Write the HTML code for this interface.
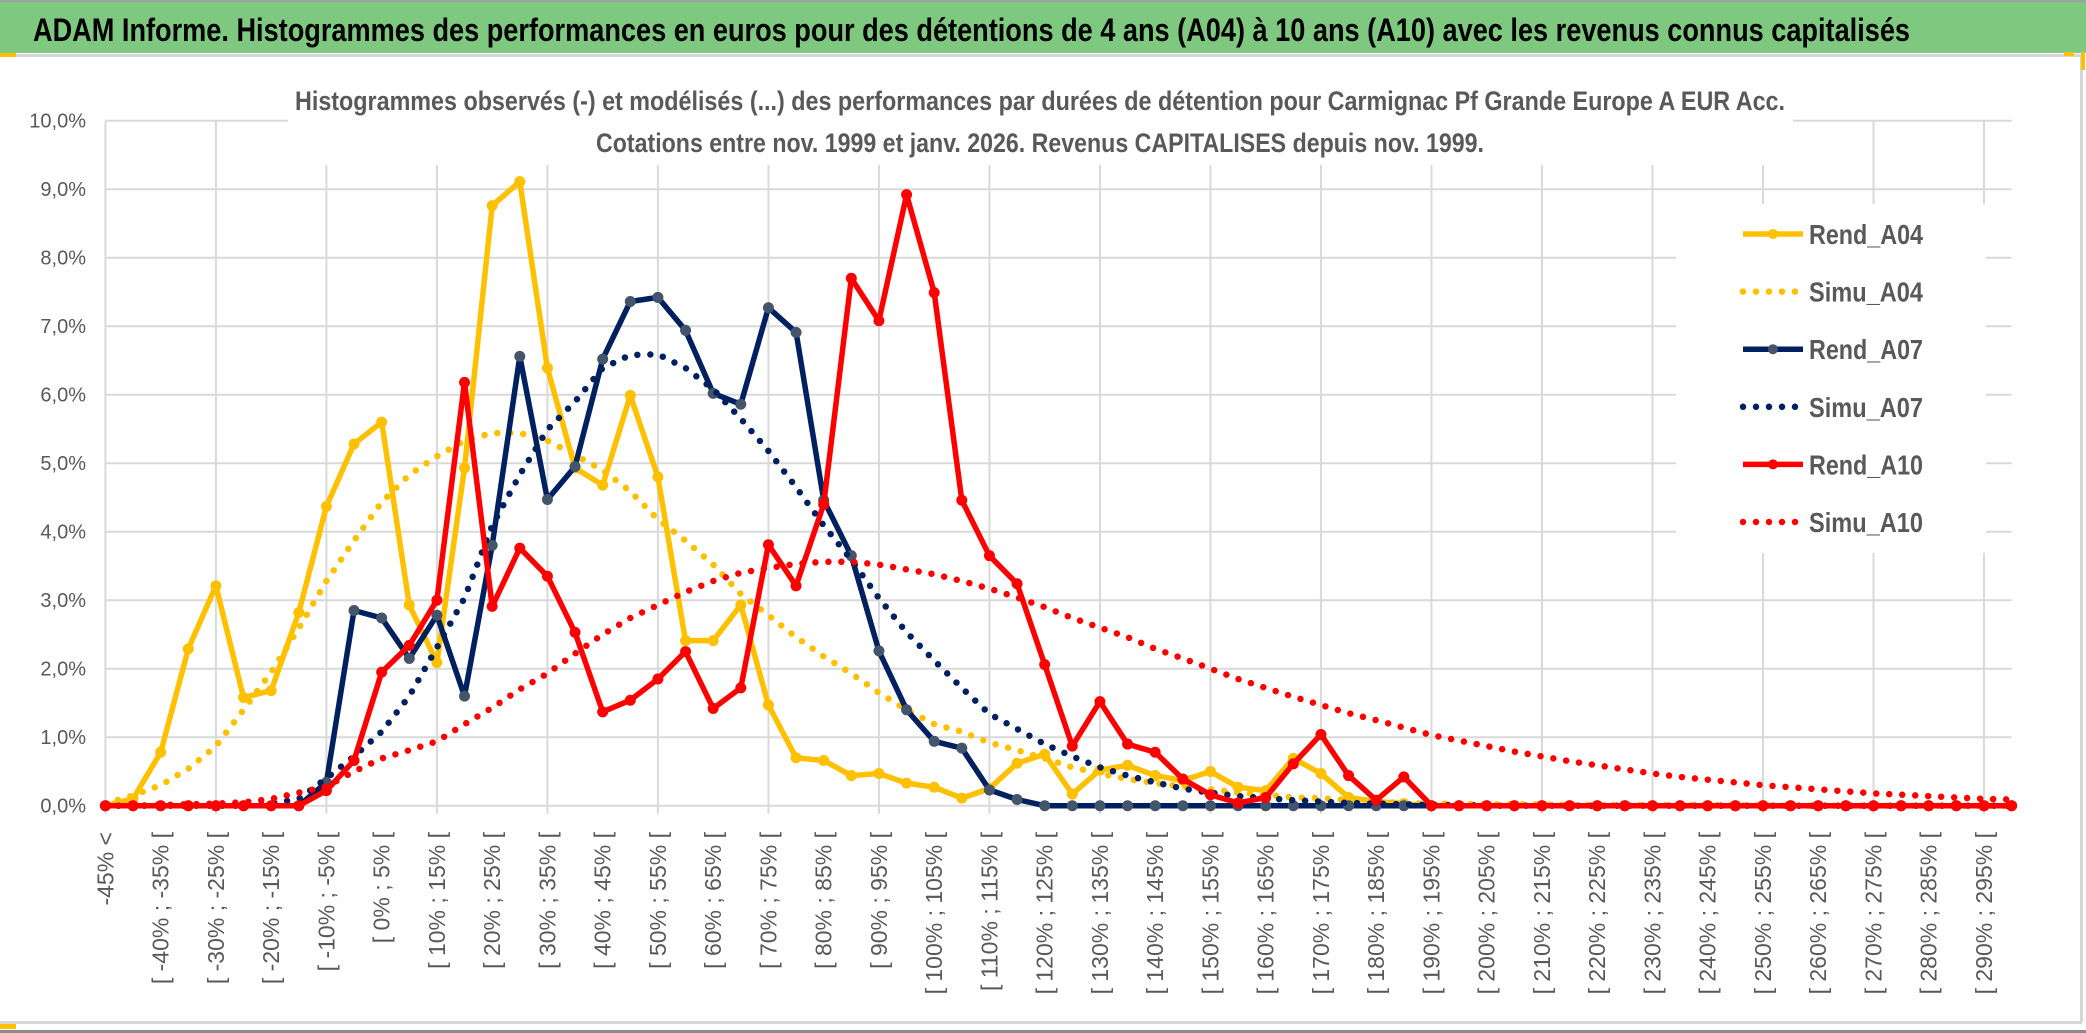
<!DOCTYPE html>
<html><head><meta charset="utf-8">
<style>
html,body{margin:0;padding:0;background:#fff;}
svg{display:block;}
</style></head>
<body>
<svg id="chart" width="2086" height="1033" viewBox="0 0 2086 1033" xmlns="http://www.w3.org/2000/svg" font-family="'Liberation Sans', sans-serif">
  <rect x="0" y="0" width="2086" height="1033" fill="#ffffff"/>
  <rect x="0" y="0" width="2086" height="2" fill="#a0a0a0"/>
  <rect x="0" y="2" width="2086" height="51" fill="#7ec880"/>
  <text x="33" y="41" font-size="32" font-weight="bold" fill="#000" textLength="1877" lengthAdjust="spacingAndGlyphs">ADAM Informe. Histogrammes des performances en euros pour des détentions de 4 ans (A04) à 10 ans (A10) avec les revenus connus capitalisés</text>
  <rect x="0" y="54" width="2082" height="3" fill="#d6d6d6"/>
  <rect x="2080" y="54" width="3" height="968" fill="#d6d6d6"/>
  <rect x="0" y="1021" width="2082" height="3" fill="#d6d6d6"/>
  <rect x="0" y="1030" width="2086" height="3" fill="#8a8a8a"/>
  <rect x="0" y="53" width="16" height="4" fill="#ffc000"/>
  <rect x="0" y="1024" width="16" height="5" fill="#ffc000"/>
  <rect x="2064" y="52" width="10" height="4" fill="#ffc000"/>
  <rect x="2081" y="52" width="4" height="18" fill="#ffc000"/>
  <g id="grid"></g>
  <rect x="288" y="58" width="1505" height="107" fill="#fff"/>
  <rect x="1676" y="204" width="310" height="349" fill="#fff"/>
  <text x="295" y="110" font-size="27" font-weight="bold" fill="#595959" textLength="1490" lengthAdjust="spacingAndGlyphs">Histogrammes observés (-) et modélisés (...) des performances par durées de détention pour Carmignac Pf Grande Europe A EUR Acc.</text>
  <text x="596" y="152" font-size="27" font-weight="bold" fill="#595959" textLength="888" lengthAdjust="spacingAndGlyphs">Cotations entre nov. 1999 et janv. 2026. Revenus CAPITALISES depuis nov. 1999.</text>
  <g id="yaxis"></g>
  <g id="xaxis"></g>
  <g id="series"></g>
  <g id="legend"></g>
</svg>
<script>
const categoryCount = 70;
const yTicks = [0,1,2,3,4,5,6,7,8,9,10];
const rendA04 = [0,0.1,0.78,2.29,3.21,1.58,1.68,2.82,4.37,5.28,5.6,2.93,2.09,4.93,8.76,9.11,6.39,4.93,4.68,5.99,4.8,2.41,2.41,2.93,1.47,0.7,0.66,0.44,0.47,0.33,0.27,0.11,0.25,0.62,0.75,0.17,0.52,0.59,0.44,0.37,0.5,0.27,0.22,0.69,0.47,0.12,0.06,0.03,0,0,0,0,0,0,0,0,0,0,0,0,0,0,0,0,0,0,0,0,0,0];
const simuA04 = [0.03,0.15,0.3,0.54,0.87,1.4,1.95,2.59,3.28,3.87,4.43,4.83,5.1,5.33,5.44,5.44,5.33,5.12,4.9,4.59,4.18,3.87,3.52,3.09,2.78,2.46,2.18,1.93,1.65,1.4,1.19,1.08,0.92,0.81,0.69,0.56,0.47,0.39,0.33,0.28,0.24,0.19,0.16,0.12,0.11,0.08,0.06,0.04,0.03,0.03,0.02,0.02,0.02,0.01,0.01,0.01,0.01,0.01,0.01,0.01,0,0,0,0,0,0,0,0,0,0];
const rendA07 = [0,0,0,0,0,0,0,0,0.34,2.85,2.74,2.15,2.78,1.6,3.8,6.56,4.47,4.95,6.52,7.36,7.42,6.94,6.02,5.86,7.27,6.91,4.46,3.65,2.26,1.4,0.94,0.84,0.23,0.09,0,0,0,0,0,0,0,0,0,0,0,0,0,0,0,0,0,0,0,0,0,0,0,0,0,0,0,0,0,0,0,0,0,0,0,0];
const simuA07 = [0,0,0,0,0,0,0.03,0.1,0.4,0.72,1.08,1.6,2.31,3.03,4.09,4.83,5.49,5.9,6.39,6.58,6.59,6.39,6.08,5.65,5.18,4.65,4.09,3.59,3.03,2.53,2.12,1.72,1.34,1.12,0.9,0.72,0.56,0.44,0.34,0.25,0.19,0.14,0.11,0.08,0.06,0.04,0.03,0.02,0.01,0.01,0,0,0,0,0,0,0,0,0,0,0,0,0,0,0,0,0,0,0,0];
const rendA10 = [0,0,0,0,0,0,0,0,0.22,0.66,1.95,2.34,3.0,6.18,2.91,3.76,3.35,2.53,1.37,1.54,1.85,2.25,1.42,1.72,3.81,3.21,4.4,7.7,7.08,8.92,7.49,4.46,3.65,3.24,2.06,0.87,1.52,0.9,0.78,0.39,0.16,0.04,0.12,0.61,1.04,0.44,0.08,0.42,0,0,0,0,0,0,0,0,0,0,0,0,0,0,0,0,0,0,0,0,0,0];
const simuA10 = [0,0,0.01,0.02,0.03,0.05,0.1,0.19,0.28,0.5,0.69,0.81,0.94,1.19,1.43,1.7,1.93,2.22,2.5,2.74,2.93,3.12,3.28,3.4,3.47,3.53,3.56,3.56,3.52,3.45,3.38,3.28,3.17,3.04,2.9,2.74,2.6,2.46,2.29,2.15,2.0,1.85,1.72,1.59,1.47,1.35,1.25,1.14,1.03,0.95,0.87,0.79,0.72,0.65,0.59,0.53,0.47,0.42,0.38,0.34,0.3,0.27,0.24,0.21,0.18,0.16,0.14,0.12,0.1,0.09];
const seriesNames = ["Rend_A04","Simu_A04","Rend_A07","Simu_A07","Rend_A10","Simu_A10"];

const NS = "http://www.w3.org/2000/svg";
const X0 = 105.4, X1 = 2011.6, Y0 = 805.7, Y10 = 120.7;
function xAt(i){ return X0 + (X1 - X0) * i / (categoryCount - 1); }
function yAt(v){ return Y0 - (Y0 - Y10) * v / 10; }
function mk(tag, attrs, parent){
  const e = document.createElementNS(NS, tag);
  for (const k in attrs) e.setAttribute(k, attrs[k]);
  parent.appendChild(e);
  return e;
}
function catLabel(i){
  if (i === 0) return "-45% <";
  const a = -45 + 5 * (i - 1);
  return "[ " + a + "% ; " + (a + 5) + "% [";
}

const grid = document.getElementById("grid");
yTicks.forEach(function(t){
  const l = mk("line", {x1: X0, x2: X1, y1: yAt(t), y2: yAt(t), stroke: "#d9d9d9", "stroke-width": 2}, grid);
  
  
});
for (let i = 0; i < categoryCount; i += 4) {
  const l = mk("line", {x1: xAt(i), x2: xAt(i), y1: Y10, y2: Y0 + 8, stroke: "#d9d9d9", "stroke-width": 2}, grid);
  
  
}

const yaxis = document.getElementById("yaxis");
yTicks.forEach(function(t){
  const tx = mk("text", {x: 86, y: yAt(t) + 7, "text-anchor": "end", "font-size": 20, fill: "#595959"}, yaxis);
  tx.textContent = t.toFixed(1).replace(".", ",") + "%";
  
  
});

const xaxis = document.getElementById("xaxis");
for (let i = 0; i < categoryCount; i += 2) {
  const x = xAt(i) + 8, y = 832;
  const tx = mk("text", {x: x, y: y, "text-anchor": "end", "font-size": 23, fill: "#595959", transform: "rotate(-90 " + x + " " + y + ")"}, xaxis);
  tx.textContent = catLabel(i);
  
  
}

const seriesG = document.getElementById("series");
function pts(arr){ return arr.map(function(v, i){ return xAt(i).toFixed(1) + "," + yAt(v).toFixed(1); }).join(" "); }
function drawSolid(arr, color, markerColor, name){
  const g = mk("g", {}, seriesG);
  
  
  mk("polyline", {points: pts(arr), fill: "none", stroke: color, "stroke-width": 5.5, "stroke-linejoin": "round"}, g);
  arr.forEach(function(v, i){
    const c = mk("circle", {cx: xAt(i), cy: yAt(v), r: 5, fill: markerColor, stroke: markerColor, "stroke-width": 1}, g);
    
    
  });
}
function drawDotted(arr, color, name){
  const p = mk("polyline", {points: pts(arr), fill: "none", stroke: color, "stroke-width": 6.5, "stroke-linecap": "round", "stroke-linejoin": "round", "stroke-dasharray": "0 13"}, seriesG);
  
  
}
drawSolid(rendA04, "#ffc000", "#ffc000", "rend-a04-line");
drawDotted(simuA04, "#ffc000", "simu-a04-line");
drawSolid(rendA07, "#002060", "#44546a", "rend-a07-line");
drawDotted(simuA07, "#002060", "simu-a07-line");
drawSolid(rendA10, "#ff0000", "#ff0000", "rend-a10-line");
drawDotted(simuA10, "#ff0000", "simu-a10-line");

const legend = document.getElementById("legend");
const legColors = ["#ffc000","#ffc000","#002060","#002060","#ff0000","#ff0000"];
const legMarkers = ["#ffc000",null,"#44546a",null,"#ff0000",null];
seriesNames.forEach(function(n, k){
  const y = 234 + k * 57.6;
  const g = mk("g", {}, legend);
  
  
  if (k % 2 === 0) {
    mk("line", {x1: 1743, x2: 1803, y1: y, y2: y, stroke: legColors[k], "stroke-width": 5.5}, g);
    mk("circle", {cx: 1773, cy: y, r: 5, fill: legMarkers[k]}, g);
  } else {
    mk("line", {x1: 1743, x2: 1803, y1: y, y2: y, stroke: legColors[k], "stroke-width": 6.5, "stroke-linecap": "round", "stroke-dasharray": "0 13"}, g);
  }
  const t = mk("text", {x: 1809, y: y + 10, "font-size": 28, "font-weight": "bold", fill: "#595959", textLength: 114, lengthAdjust: "spacingAndGlyphs"}, g);
  t.textContent = n;
});
</script>
</body></html>
